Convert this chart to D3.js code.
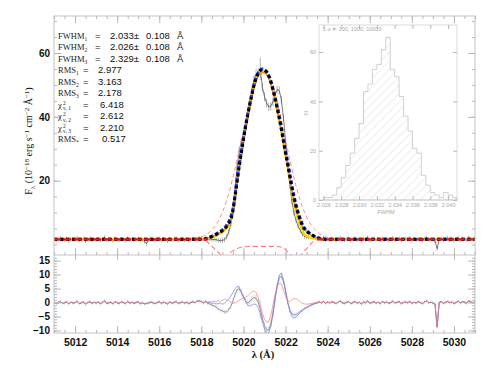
<!DOCTYPE html>
<html>
<head>
<meta charset="utf-8">
<script src="https://cdn.jsdelivr.net/npm/d3@7"></script>
<style>
  body { margin: 0; background: #fff; }
  .tick text { font-family: "Liberation Sans", Arial, sans-serif; font-weight: bold; fill: #111; }
  .tick line { stroke: #b8b8b8; }
  .domain { display: none; }
</style>
</head>
<body>
<svg id="chart" width="490" height="368"></svg>
<script>
// wavelength grid of the spectrum (Angstrom)
var lambdaStep = 0.1;
var contLeftStart = 5011.0;   // 5011.0 .. 5017.9
var lineStart = 5018.0;       // 5018.0 .. 5024.0
var contRightStart = 5024.1;  // 5024.1 .. 5031.0

// observed flux, continuum windows
var fluxContLeft = [1.8,1.2,1.6,2.0,1.3,1.5,1.9,1.1,1.7,1.4,
  1.6,2.1,1.2,1.5,1.8,1.0,1.6,1.9,1.3,1.7,
  1.4,1.8,1.2,1.6,2.2,1.3,1.5,1.7,1.1,1.9,
  1.5,1.3,1.8,1.6,1.2,2.0,1.4,1.7,1.3,1.6,
  1.9,1.2,1.5,0.9,0.3,1.4,1.8,1.5,1.2,1.6,
  1.9,1.3,1.7,1.5,1.1,1.8,1.4,1.6,2.0,1.3,
  1.5,1.8,1.4,1.7,1.2,1.6,1.9,1.5,1.8,2.0];
var fluxContRight = [1.4,1.9,1.6,1.2,1.8,2.1,1.5,1.3,1.7,1.9,
  1.2,1.6,2.0,1.4,1.7,1.1,1.8,1.5,2.2,1.3,
  1.6,1.9,1.4,1.7,1.2,2.0,1.5,1.8,1.3,1.6,
  2.1,1.4,1.7,1.9,1.2,1.6,1.8,1.5,2.0,1.3,
  1.7,1.4,1.9,1.6,1.2,1.8,2.2,1.5,1.7,1.4,
  1.1,-1.3,1.6,1.9,1.3,1.7,2.0,1.5,1.8,1.2,
  1.6,2.1,1.4,1.9,1.7,1.3,2.2,1.8,1.5,2.0];
// observed flux and errors over the line
var fluxLine = [1.9,1.5,2.2,1.7,1.7,1.6,1.6,1.5,1.3,1.2,
  1.3,1.5,2.3,3.9,6.4,10.5,17.3,24.4,29.4,32.2,
  34.7,37.4,40.2,44.1,48.2,51.6,53.5,53.8,55.0,49.2,
  46.3,44.3,43.1,43.3,44.7,46.9,48.5,48.3,45.4,39.7,
  32.5,25.2,18.7,13.6,9.9,7.5,5.7,4.4,3.2,2.6,
  2.3,2.2,2.2,2.2,2.0,2.0,2.2,1.6,2.1,1.3,1.8];
var errLine = [0.6,0.6,0.6,0.6,0.7,0.7,0.7,0.7,0.7,0.7,
  0.8,0.8,0.8,0.9,0.9,1.0,1.0,1.1,1.1,1.2,
  1.2,1.2,1.3,1.3,1.3,1.4,1.4,1.4,3.5,1.4,
  1.4,1.4,1.3,1.3,1.3,1.3,1.2,1.2,1.2,1.1,
  1.1,1.0,1.0,0.9,0.9,0.8,0.8,0.8,0.7,0.7,
  0.7,0.7,0.6,0.6,0.6,0.6,0.6,0.6,0.6,0.6,0.6];
var errCont = 0.6;

// fitted models over the line (5018.0 .. 5024.0)
var model1 = [1.6,1.7,1.8,2.0,2.2,2.5,2.8,3.1,3.5,3.9,
  4.3,4.9,5.6,6.5,7.8,10.5,15.0,19.7,24.5,28.6,
  32.8,36.8,40.4,43.8,47.0,49.8,52.0,53.6,54.5,54.8,
  54.6,54.0,52.8,50.9,48.5,45.7,42.7,39.5,36.0,32.2,
  28.5,25.0,21.3,17.6,14.4,11.8,9.5,7.6,5.9,4.8,
  4.1,3.6,3.2,2.8,2.4,2.1,1.9,1.8,1.7,1.6,1.6];
var model2 = [1.6,1.7,1.8,2.0,2.3,2.6,2.9,3.3,3.7,4.1,
  4.6,5.2,6.0,7.1,8.7,11.2,15.6,20.6,25.2,29.2,
  33.3,37.2,40.8,44.1,47.3,50.0,52.2,53.8,54.7,55.0,
  54.8,54.2,53.1,51.3,49.0,46.3,43.4,40.2,36.8,33.1,
  29.4,25.9,22.2,18.5,15.2,12.5,10.1,8.1,6.3,5.1,
  4.3,3.8,3.3,2.9,2.5,2.2,2.0,1.8,1.7,1.6,1.6];
var model3 = [1.6,1.6,1.7,1.8,2.0,2.2,2.4,2.7,3.0,3.4,
  3.8,4.3,5.0,6.0,7.5,10.2,14.8,20.0,24.6,28.7,
  32.8,36.7,40.2,43.6,46.7,49.4,51.6,53.2,54.1,54.4,
  54.2,53.6,52.4,50.5,48.1,45.3,42.2,39.0,35.4,31.5,
  27.6,23.9,20.0,16.2,12.9,10.1,7.7,5.8,4.3,3.3,
  2.7,2.3,2.1,1.9,1.8,1.7,1.6,1.6,1.6,1.6,1.6];
var model4 = [1.6,1.7,1.8,2.0,2.2,2.4,2.7,3.0,3.4,3.8,
  4.2,4.8,5.5,6.4,7.6,9.7,13.8,18.9,23.6,27.7,
  31.9,35.9,39.6,43.0,46.2,49.0,51.2,52.8,53.6,53.9,
  53.8,53.3,52.2,50.4,48.0,45.3,42.3,39.1,35.6,31.9,
  28.2,24.7,21.0,17.4,14.2,11.6,9.3,7.4,5.8,4.7,
  4.0,3.5,3.1,2.7,2.3,2.0,1.8,1.7,1.6,1.6,1.6];
var continuumLevel = 1.6;
var continuumWindows = [[5011.0, 5018.3], [5023.5, 5031.0]];

// components (dashed): broad emission 5017.0 .. 5025.0, absorption 5018.0 .. 5024.0
var emissionStart = 5017.0;
var emissionComp = [1.7,1.7,1.8,1.8,1.9,1.9,2.0,2.1,2.2,2.3,
  2.4,2.7,3.0,3.4,3.9,4.6,5.3,6.3,7.3,8.6,
  10.1,11.8,13.8,15.9,18.3,20.9,23.7,26.6,29.7,32.8,
  35.9,39.1,42.1,44.9,47.4,49.7,51.6,53.0,54.0,54.5,
  54.5,54.0,53.0,51.6,49.7,47.4,44.9,42.1,39.1,35.9,
  32.8,29.7,26.6,23.7,20.9,18.3,15.9,13.8,11.8,10.1,
  8.6,7.3,6.3,5.3,4.6,3.9,3.4,3.0,2.7,2.4,2.2,
  2.1,2.0,1.9,1.9,1.8,1.8,1.7,1.7,1.7,1.6];
var absorptionComp = [1.6,1.6,1.3,0.7,0.0,-0.6,-1.2,-1.9,-2.5,-3.1,
  -4.0,-5.5,-4.8,-3.3,-2.5,-2.0,-1.7,-1.3,-1.0,-0.85,
  -0.75,-0.7,-0.65,-0.6,-0.6,-0.6,-0.6,-0.6,-0.6,-0.6,
  -0.6,-0.6,-0.6,-0.6,-0.6,-0.6,-0.65,-0.7,-0.8,-1.0,
  -1.6,-2.3,-3.0,-3.6,-4.8,-5.5,-4.6,-3.6,-2.8,-2.0,
  -1.3,-0.6,0.2,0.8,1.3,1.6,1.6,1.6,1.6,1.6,1.6];

// residuals
var resContLeft = [0.2,-0.4,0.0,0.4,-0.3,-0.1,0.3,-0.5,0.1,-0.2,
  0.0,0.5,-0.4,-0.1,0.2,-0.6,0.0,0.3,-0.3,0.1,
  -0.2,0.2,-0.4,0.0,0.6,-0.3,-0.1,0.1,-0.5,0.3,
  -0.1,-0.3,0.2,0.0,-0.4,0.4,-0.2,0.1,-0.3,0.0,
  0.3,-0.4,-0.1,-0.5,-0.3,-0.2,0.2,-0.1,-0.4,0.0,
  0.3,-0.3,0.1,-0.1,-0.5,0.2,-0.2,0.0,0.4,-0.3,
  -0.1,0.2,-0.2,0.1,-0.4,0.0,0.3,-0.1,0.6,0.5];
var resContRight = [-0.2,0.3,0.0,-0.4,0.2,0.5,-0.1,-0.3,0.1,0.3,
  -0.4,0.0,0.4,-0.2,0.1,-0.5,0.2,-0.1,0.6,-0.3,
  0.0,0.3,-0.2,0.1,-0.4,0.4,-0.1,0.2,-0.3,0.0,
  0.5,-0.2,0.1,0.3,-0.4,0.0,0.2,-0.1,0.4,-0.3,
  0.1,-0.2,0.3,0.0,-0.4,0.2,0.6,-0.1,0.1,-0.2,
  -0.5,-8.8,0.0,0.3,-0.3,0.1,0.4,-0.1,0.2,-0.4,
  0.0,0.5,-0.2,0.3,0.1,-0.3,0.6,0.2,-0.1,0.4];
var resGreyLine = [0.3,-0.2,0.4,-0.3,-0.5,-0.9,-1.2,-1.6,-2.2,-2.7,
  -3.0,-3.4,-3.3,-2.6,-1.4,0.5,2.8,4.6,4.9,3.6,
  1.9,0.6,-0.2,0.3,1.2,1.8,1.5,0.2,-2.5,-5.6,
  -8.3,-9.9,-9.7,-7.6,-3.8,1.2,5.8,8.8,9.4,7.5,
  4.0,0.2,-2.6,-4.0,-4.5,-4.3,-3.8,-3.2,-2.7,-2.2,
  -1.8,-1.4,-1.0,-0.6,-0.4,-0.1,0.3,-0.2,0.4,-0.3,0.2];
var resBlueLine = [0.3,-0.1,0.5,-0.1,0.0,-0.3,-0.2,-0.5,-0.4,-0.2,
  -0.6,-0.3,0.5,1.2,2.3,3.6,4.9,5.8,5.5,3.8,
  2.0,0.4,-0.8,-1.3,-0.9,-0.5,-0.7,-1.8,-4.0,-7.0,
  -9.6,-11.0,-10.8,-8.6,-4.5,1.0,6.2,9.6,10.6,8.3,
  4.5,0.3,-3.0,-5.0,-5.6,-5.2,-4.4,-3.6,-2.9,-2.2,
  -1.7,-1.3,-0.9,-0.6,-0.3,-0.2,0.2,-0.1,0.4,-0.3,0.2];
var resRedLine = [0.3,-0.2,0.3,0.1,0.4,0.2,0.5,0.3,0.7,0.4,
  0.9,1.2,1.0,0.6,0.2,-0.3,-0.1,0.3,0.8,1.2,
  1.6,2.0,2.4,3.1,3.8,4.2,3.6,1.8,-1.0,-3.8,
  -6.0,-7.0,-6.8,-4.6,-1.0,2.8,5.7,7.0,6.6,4.6,
  2.2,0.6,0.4,1.0,1.4,1.3,0.8,0.2,-0.3,-0.5,
  -0.6,-0.5,-0.4,-0.2,-0.1,0.1,0.3,-0.1,0.4,-0.2,0.2];

// fit statistics printed on the plot
var fwhmVals = ["2.033", "2.026", "2.329"];
var fwhmErr = "0.108";
var rmsVals = ["2.977", "3.163", "2.178"];
var chiVals = ["6.418", "2.612", "2.210"];
var rmsStarVal = "0.517";

// inset: Monte Carlo histogram of FWHM
var histStart = 2.0260, histBin = 0.0005;
var histCounts = [1,1,2,5,9,14,19,25,31,44,47,53,55,61,66,53,50,42,34,28,21,19,10,6,3,2,1,3,2,1];
var histTicks = [2.026, 2.028, 2.030, 2.032, 2.034, 2.036, 2.038, 2.040];

var xTicks = [5012, 5014, 5016, 5018, 5020, 5022, 5024, 5026, 5028, 5030];

// ---------------------------------------------------------------

function onGrid(start, values) {
  return values.map(function(v, i) { return {x: start + i * lambdaStep, y: v}; });
}
function withErr(start, values, errs) {
  return values.map(function(v, i) {
    return {x: start + i * lambdaStep, y: v, e: errs === null ? errCont : errs[i]};
  });
}

var obs = withErr(contLeftStart, fluxContLeft, null)
  .concat(withErr(lineStart, fluxLine, errLine))
  .concat(withErr(contRightStart, fluxContRight, null));

function residSeries(lineVals) {
  return withErr(contLeftStart, resContLeft, null)
    .concat(withErr(lineStart, lineVals, errLine))
    .concat(withErr(contRightStart, resContRight, null));
}
var resGrey = residSeries(resGreyLine);
var resBlue = residSeries(resBlueLine);
var resRed = residSeries(resRedLine);

function modelSeries(vals) {
  return [{x: 5011.0, y: continuumLevel}]
    .concat(onGrid(lineStart, vals))
    .concat([{x: 5031.0, y: continuumLevel}]);
}

var svg = d3.select("#chart");
var plotLeft = 54, plotRight = 475, plotTop = 16, plotMid = 255, plotBottom = 333;
var frameColor = "#c4c4c4";

var x = d3.scaleLinear().domain([5011, 5031]).range([plotLeft, plotRight]);
var yTop = d3.scaleLinear().domain([-3.3, 71.6]).range([plotMid, plotTop]);
var yRes = d3.scaleLinear().domain([-10.9, 17]).range([plotBottom, plotMid]);

var defs = svg.append("defs");
defs.append("clipPath").attr("id", "clipTop").append("rect")
  .attr("x", plotLeft).attr("y", plotTop)
  .attr("width", plotRight - plotLeft).attr("height", plotMid - plotTop);
defs.append("clipPath").attr("id", "clipRes").append("rect")
  .attr("x", plotLeft).attr("y", plotMid)
  .attr("width", plotRight - plotLeft).attr("height", plotBottom - plotMid);
var hatch = defs.append("pattern").attr("id", "hatch")
  .attr("patternUnits", "userSpaceOnUse").attr("width", 6).attr("height", 6)
  .attr("patternTransform", "rotate(45)");
hatch.append("line").attr("x1", 0).attr("y1", 0).attr("x2", 0).attr("y2", 6)
  .attr("stroke", "#cfcfcf").attr("stroke-width", 0.7);

// ---------- inset histogram (drawn first, sits behind the spectrum) ----------
var insetL = 319, insetR = 457, insetT = 25, insetB = 200;
var hx = d3.scaleLinear().domain([2.0255, 2.0410]).range([insetL, insetR]);
var hy = d3.scaleLinear().domain([0, 71]).range([insetB, insetT]);
var gInset = svg.append("g").attr("class", "inset");

var histPts = [];
histCounts.forEach(function(c, i) {
  var x0 = histStart + i * histBin, x1 = x0 + histBin;
  histPts.push([hx(x0), hy(c)], [hx(x1), hy(c)]);
});
var histPath = "M" + hx(histStart) + "," + hy(0) + "L" +
  histPts.map(function(p) { return p.join(","); }).join("L") +
  "L" + hx(histStart + histCounts.length * histBin) + "," + hy(0) + "Z";
gInset.append("path").attr("d", histPath)
  .attr("fill", "url(#hatch)").attr("stroke", "#bdbdbd").attr("stroke-width", 0.7);

gInset.append("rect").attr("x", insetL).attr("y", insetT)
  .attr("width", insetR - insetL).attr("height", insetB - insetT)
  .attr("fill", "none").attr("stroke", "#cfcfcf").attr("stroke-width", 0.8);

var insetFont = "5.5px";
gInset.append("g").attr("transform", "translate(0," + insetB + ")")
  .call(d3.axisBottom(hx).tickValues(histTicks).tickSizeInner(-4).tickSizeOuter(0)
    .tickPadding(3).tickFormat(d3.format(".3f")))
  .call(function(g) {
    g.selectAll("text").style("font-size", insetFont).style("font-weight", "normal").style("fill", "#a8a8a8");
    g.selectAll("line").attr("stroke", "#d0d0d0");
  });
gInset.append("g").attr("transform", "translate(0," + insetT + ")")
  .call(d3.axisTop(hx).tickValues(histTicks).tickSizeInner(-4).tickSizeOuter(0).tickFormat(""))
  .call(function(g) { g.selectAll("line").attr("stroke", "#d0d0d0"); });
gInset.append("g").attr("transform", "translate(" + insetL + ",0)")
  .call(d3.axisLeft(hy).tickValues([0, 20, 40, 60]).tickSizeInner(-4).tickSizeOuter(0)
    .tickPadding(3))
  .call(function(g) {
    g.selectAll("text").style("font-size", insetFont).style("font-weight", "normal").style("fill", "#a8a8a8");
    g.selectAll("line").attr("stroke", "#d0d0d0");
  });
gInset.append("g").attr("transform", "translate(" + insetR + ",0)")
  .call(d3.axisRight(hy).tickValues([0, 20, 40, 60]).tickSizeInner(-4).tickSizeOuter(0).tickFormat(""))
  .call(function(g) { g.selectAll("line").attr("stroke", "#d0d0d0"); });

gInset.append("text").attr("x", (insetL + insetR) / 2 - 2).attr("y", 214)
  .attr("text-anchor", "middle").style("font-family", "Liberation Sans, sans-serif")
  .style("font-size", "5.5px").style("fill", "#a8a8a8").text("FWHM");
gInset.append("text").attr("transform", "translate(308,113) rotate(-90)")
  .attr("text-anchor", "middle").style("font-family", "Liberation Sans, sans-serif")
  .style("font-size", "5.5px").style("fill", "#a8a8a8").text("N");
gInset.append("text").attr("x", insetL + 4).attr("y", insetT + 6)
  .style("font-family", "Liberation Sans, sans-serif").style("font-size", "5.5px")
  .style("fill", "#a8a8a8").text("1 \u03c3 #:   100,   1000,   10000");

// ---------- top panel ----------
var gTop = svg.append("g").attr("clip-path", "url(#clipTop)");

var lineTop = d3.line().x(function(d) { return x(d.x); }).y(function(d) { return yTop(d.y); });
var smoothTop = d3.line().curve(d3.curveMonotoneX)
  .x(function(d) { return x(d.x); }).y(function(d) { return yTop(d.y); });

// error bars and observed spectrum
gTop.selectAll(".ebar").data(obs).enter().append("line")
  .attr("class", "ebar")
  .attr("x1", function(d) { return x(d.x); }).attr("x2", function(d) { return x(d.x); })
  .attr("y1", function(d) { return yTop(d.y - d.e); })
  .attr("y2", function(d) { return yTop(d.y + d.e); })
  .attr("stroke", "#7a7a7a").attr("stroke-width", 0.6);
gTop.append("path").attr("d", lineTop(obs))
  .attr("fill", "none").attr("stroke", "#444").attr("stroke-width", 0.7);

// dashed components
gTop.append("path")
  .attr("d", smoothTop([{x: 5011.0, y: continuumLevel}]
    .concat(onGrid(lineStart, absorptionComp)).concat([{x: 5031.0, y: continuumLevel}])))
  .attr("fill", "none").attr("stroke", "#ff7b7b").attr("stroke-width", 1.1)
  .attr("stroke-dasharray", "5,3");
gTop.append("path").attr("d", smoothTop(onGrid(emissionStart, emissionComp)))
  .attr("fill", "none").attr("stroke", "#ff8a8a").attr("stroke-width", 1.0)
  .attr("stroke-dasharray", "4,3");

// fitted models
gTop.append("path").attr("d", smoothTop(modelSeries(model3)))
  .attr("fill", "none").attr("stroke", "#f2dc00").attr("stroke-width", 2.2);
gTop.append("path").attr("d", smoothTop(modelSeries(model4)))
  .attr("fill", "none").attr("stroke", "#ff8c1a").attr("stroke-width", 1.6);
gTop.append("path").attr("d", smoothTop(modelSeries(model2)))
  .attr("fill", "none").attr("stroke", "#1f3bd6").attr("stroke-width", 3)
  .attr("stroke-dasharray", "4,2");
gTop.append("path").attr("d", smoothTop(modelSeries(model1)))
  .attr("fill", "none").attr("stroke", "#000").attr("stroke-width", 3)
  .attr("stroke-dasharray", "3,3");

// continuum fit
continuumWindows.forEach(function(w) {
  gTop.append("path")
    .attr("d", lineTop([{x: w[0], y: continuumLevel}, {x: w[1], y: continuumLevel}]))
    .attr("fill", "none").attr("stroke", "#e31a1c").attr("stroke-width", 2.4)
    .attr("stroke-dasharray", "7,3");
});

// ---------- residual panel ----------
var gRes = svg.append("g").attr("clip-path", "url(#clipRes)");
var lineRes = d3.line().x(function(d) { return x(d.x); }).y(function(d) { return yRes(d.y); });

gRes.selectAll(".rbar").data(resGrey).enter().append("line")
  .attr("class", "rbar")
  .attr("x1", function(d) { return x(d.x); }).attr("x2", function(d) { return x(d.x); })
  .attr("y1", function(d) { return yRes(d.y - d.e); })
  .attr("y2", function(d) { return yRes(d.y + d.e); })
  .attr("stroke", "#cdcdcd").attr("stroke-width", 0.7);
gRes.append("path").attr("d", lineRes(resGrey))
  .attr("fill", "none").attr("stroke", "#8c8c8c").attr("stroke-width", 0.9);
gRes.append("path").attr("d", lineRes(resBlue))
  .attr("fill", "none").attr("stroke", "#6b7ff0").attr("stroke-width", 1)
  .attr("stroke-opacity", 0.7);
gRes.append("path").attr("d", lineRes(resRed))
  .attr("fill", "none").attr("stroke", "#ff6f6f").attr("stroke-width", 1)
  .attr("stroke-opacity", 0.65);

// ---------- frames and axes ----------
svg.append("rect").attr("x", plotLeft).attr("y", plotTop)
  .attr("width", plotRight - plotLeft).attr("height", plotBottom - plotTop)
  .attr("fill", "none").attr("stroke", frameColor).attr("stroke-width", 1);
svg.append("line").attr("x1", plotLeft).attr("x2", plotRight)
  .attr("y1", plotMid).attr("y2", plotMid)
  .attr("stroke", frameColor).attr("stroke-width", 1);

var minorX = d3.range(5011, 5031.01, 0.5);
var minorTop = d3.range(0, 71, 5);
var minorRes = d3.range(-10, 17, 1);

function tickAxis(axis, translate) {
  return svg.append("g").attr("transform", translate).call(axis);
}

// x ticks on top edge, on the panel divide and on the bottom (labelled)
tickAxis(d3.axisTop(x).tickValues(xTicks).tickSizeInner(-7).tickSizeOuter(0).tickFormat(""), "translate(0," + plotTop + ")");
tickAxis(d3.axisTop(x).tickValues(minorX).tickSizeInner(-3).tickSizeOuter(0).tickFormat(""), "translate(0," + plotTop + ")");
tickAxis(d3.axisBottom(x).tickValues(xTicks).tickSizeInner(-7).tickSizeOuter(0).tickFormat(""), "translate(0," + plotMid + ")");
tickAxis(d3.axisBottom(x).tickValues(minorX).tickSizeInner(-3).tickSizeOuter(0).tickFormat(""), "translate(0," + plotMid + ")");
tickAxis(d3.axisTop(x).tickValues(xTicks).tickSizeInner(-5).tickSizeOuter(0).tickFormat(""), "translate(0," + plotMid + ")");
tickAxis(d3.axisBottom(x).tickValues(xTicks).tickSizeInner(-7).tickSizeOuter(0).tickPadding(6)
  .tickFormat(d3.format("d")), "translate(0," + plotBottom + ")")
  .selectAll("text").style("font-size", "10.5px");
tickAxis(d3.axisBottom(x).tickValues(minorX).tickSizeInner(-3).tickSizeOuter(0).tickFormat(""), "translate(0," + plotBottom + ")");

// y ticks, top panel
tickAxis(d3.axisLeft(yTop).tickValues([20, 40, 60]).tickSizeInner(-7).tickSizeOuter(0).tickPadding(4)
  .tickFormat(d3.format("d")), "translate(" + plotLeft + ",0)")
  .selectAll("text").style("font-size", "10px");
tickAxis(d3.axisLeft(yTop).tickValues(minorTop).tickSizeInner(-3).tickSizeOuter(0).tickFormat(""), "translate(" + plotLeft + ",0)");
tickAxis(d3.axisRight(yTop).tickValues([20, 40, 60]).tickSizeInner(-7).tickSizeOuter(0).tickFormat(""), "translate(" + plotRight + ",0)");
tickAxis(d3.axisRight(yTop).tickValues(minorTop).tickSizeInner(-3).tickSizeOuter(0).tickFormat(""), "translate(" + plotRight + ",0)");

// y ticks, residual panel
tickAxis(d3.axisLeft(yRes).tickValues([-10, -5, 0, 5, 10, 15]).tickSizeInner(-7).tickSizeOuter(0).tickPadding(4)
  .tickFormat(d3.format("d")), "translate(" + plotLeft + ",0)")
  .selectAll("text").style("font-size", "10px");
tickAxis(d3.axisLeft(yRes).tickValues(minorRes).tickSizeInner(-3).tickSizeOuter(0).tickFormat(""), "translate(" + plotLeft + ",0)");
tickAxis(d3.axisRight(yRes).tickValues([-10, -5, 0, 5, 10, 15]).tickSizeInner(-7).tickSizeOuter(0).tickFormat(""), "translate(" + plotRight + ",0)");
tickAxis(d3.axisRight(yRes).tickValues(minorRes).tickSizeInner(-3).tickSizeOuter(0).tickFormat(""), "translate(" + plotRight + ",0)");

// axis titles
var serif = "Liberation Serif, Times New Roman, serif";
var sans = "Liberation Sans, Arial, sans-serif";

var yTitle = svg.append("text")
  .attr("transform", "translate(32,141) rotate(-90)")
  .attr("text-anchor", "middle")
  .style("font-family", serif).style("font-size", "10px").style("fill", "#111");
yTitle.append("tspan").text("F");
yTitle.append("tspan").attr("dy", 2.5).style("font-size", "7px").text("\u03bb");
yTitle.append("tspan").attr("dy", -2.5).text(" (10");
yTitle.append("tspan").attr("dy", -3.5).style("font-size", "7px").text("\u221218");
yTitle.append("tspan").attr("dy", 3.5).text(" erg s");
yTitle.append("tspan").attr("dy", -3.5).style("font-size", "7px").text("\u22121");
yTitle.append("tspan").attr("dy", 3.5).text(" cm");
yTitle.append("tspan").attr("dy", -3.5).style("font-size", "7px").text("\u22122");
yTitle.append("tspan").attr("dy", 3.5).text(" \u00c5");
yTitle.append("tspan").attr("dy", -3.5).style("font-size", "7px").text("\u22121");
yTitle.append("tspan").attr("dy", 3.5).text(")");

svg.append("text").attr("x", 263).attr("y", 358).attr("text-anchor", "middle")
  .style("font-family", serif).style("font-size", "10.5px").style("font-weight", "bold")
  .style("fill", "#111").text("\u03bb (\u00c5)");

// ---------- fit statistics ----------
var rowY0 = 38.5, rowStep = 11.55;
var gStats = svg.append("g");

function statLabel(row, name, sub) {
  var t = gStats.append("text").attr("x", 58).attr("y", rowY0 + row * rowStep)
    .style("font-family", serif).style("font-size", "8.5px").style("fill", "#222");
  t.append("tspan").text(name);
  t.append("tspan").attr("dy", 2).style("font-size", "5.5px").text(sub);
  return t;
}
function statText(row, xPos, txt) {
  gStats.append("text").attr("x", xPos).attr("y", rowY0 + row * rowStep)
    .style("font-family", sans).style("font-size", "9.5px").style("fill", "#111").text(txt);
}

fwhmVals.forEach(function(v, i) {
  statLabel(i, "FWHM", String(i + 1));
  statText(i, 95, "=");
  statText(i, 110, v + "\u00b1");
  statText(i, 146, fwhmErr);
  statText(i, 177, "\u00c5");
});
rmsVals.forEach(function(v, i) {
  statLabel(3 + i, "RMS", String(i + 1));
  statText(3 + i, 83, "=");
  statText(3 + i, 98, v);
});
chiVals.forEach(function(v, i) {
  var row = 6 + i;
  var t = gStats.append("text").attr("x", 58).attr("y", rowY0 + row * rowStep)
    .style("font-family", serif).style("font-size", "8.5px").style("fill", "#222");
  t.append("tspan").text("\u03c7");
  t.append("tspan").attr("x", 63).attr("dy", -3).style("font-size", "5.5px").text("2");
  t.append("tspan").attr("x", 63).attr("dy", 5.5).style("font-size", "5.5px").text("\u03bd, " + (i + 1));
  statText(row, 83, "=");
  statText(row, 100, v);
});
statLabel(9, "RMS", "*");
statText(9, 83, "=");
statText(9, 102, rmsStarVal);
</script>
</body>
</html>
